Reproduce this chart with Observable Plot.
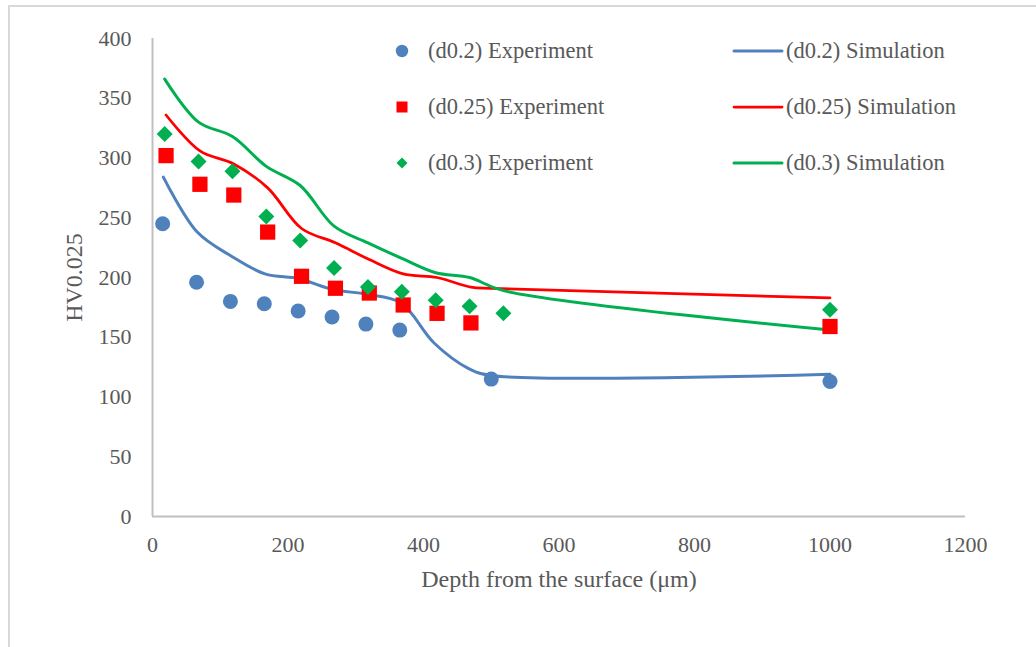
<!DOCTYPE html>
<html>
<head>
<meta charset="utf-8">
<script src="https://cdn.jsdelivr.net/npm/d3@7"></script>
<script src="https://cdn.jsdelivr.net/npm/@observablehq/plot@0.6"></script>
<style>
  html, body { margin: 0; padding: 0; background: #fff; overflow: hidden; }
  #wrap { position: relative; width: 1036px; height: 647px; overflow: hidden; }
  #frame { position: absolute; left: 8px; top: 5px; width: 1100px; height: 700px;
           border-left: 2px solid #d9d9d9; border-top: 2px solid #d9d9d9; box-sizing: border-box; }
  #chart { position: absolute; left: 0; top: 0; }
  #legend { position: absolute; left: 0; top: 0; font-family: "Liberation Serif", "Times New Roman", serif;
            font-size: 22.5px; color: #595959; }
  .item { position: absolute; display: flex; align-items: center; height: 30px; white-space: nowrap; }
  .item svg { display: block; }
  #chart svg g[aria-label="x-axis label"] text, #chart svg g[aria-label="y-axis label"] text { font-size: 24px; }
</style>
</head>
<body>
<div id="wrap">
  <div id="frame"></div>
  <div id="chart"></div>
  <div id="legend"></div>
</div>
<script>
// ---- data ----
const blueExpX  = [15, 65, 115, 165, 215, 265, 315, 365, 500, 1000];
const blueExpY  = [245, 196, 180, 178, 172, 167, 161, 156, 115, 113];
const redExpX   = [20, 70, 120, 170, 220, 270, 320, 370, 420, 470, 1000];
const redExpY   = [302, 278, 269, 238, 201, 191, 187, 177, 170, 162, 159];
const greenExpX = [18, 68, 118, 168, 218, 268, 318, 368, 418, 468, 518, 1000];
const greenExpY = [320, 297, 289, 251, 231, 208, 192, 188, 181, 176, 170, 173];

const blueSimX  = [16, 66, 116, 166, 216, 266, 316, 366, 416, 466, 500, 1000];
const blueSimY  = [284, 238, 218, 203, 199, 190, 186, 179, 145, 124, 118, 119];
const redSimX   = [20, 70, 120, 170, 220, 270, 320, 370, 420, 470, 500, 1000];
const redSimY   = [336, 306, 295, 275, 241, 229, 215, 203, 200, 192, 191, 183];
const greenSimX = [18, 68, 118, 168, 218, 268, 318, 368, 418, 468, 518, 1000];
const greenSimY = [366, 330, 318, 293, 277, 243, 229, 216, 204, 200, 189, 156];

const xTicks = [0, 200, 400, 600, 800, 1000, 1200];
const yTicks = [0, 50, 100, 150, 200, 250, 300, 350, 400];

const seriesNames = ["(d0.2)", "(d0.25)", "(d0.3)"];
const colors = ["#4f81bd", "#ff0000", "#00b050"];

const zip = (xs, ys) => xs.map((x, i) => ({x, y: ys[i]}));
const exp = [zip(blueExpX, blueExpY), zip(redExpX, redExpY), zip(greenExpX, greenExpY)];
const sim = [zip(blueSimX, blueSimY), zip(redSimX, redSimY), zip(greenSimX, greenSimY)];

const axisColor = "#bfbfbf";
const textColor = "#595959";

const chart = Plot.plot({
  width: 1036,
  height: 647,
  marginLeft: 152,
  marginRight: 71,
  marginTop: 38,
  marginBottom: 131,
  style: {fontFamily: "'Liberation Serif', 'Times New Roman', serif", fontSize: "22px", color: textColor, background: "transparent", overflow: "visible"},
  x: {domain: [0, 1200]},
  y: {domain: [0, 400]},
  marks: [
    Plot.ruleX([0], {stroke: axisColor, strokeWidth: 2}),
    Plot.ruleY([0], {stroke: axisColor, strokeWidth: 2}),
    Plot.axisX({ticks: xTicks, tickSize: 0, tickPadding: 20, tickFormat: d => String(d),
      label: "Depth from the surface (μm)", labelAnchor: "center", labelArrow: "none", labelOffset: 70, fill: textColor}),
    Plot.axisY({ticks: yTicks, tickSize: 0, tickPadding: 21, tickFormat: d => String(d),
      label: "HV0.025", labelAnchor: "center", labelArrow: "none", labelOffset: 88, fill: textColor}),
    Plot.line(sim[0], {x: "x", y: "y", stroke: colors[0], strokeWidth: 3, curve: "catmull-rom"}),
    Plot.line(sim[1], {x: "x", y: "y", stroke: colors[1], strokeWidth: 2.75, curve: "catmull-rom"}),
    Plot.line(sim[2], {x: "x", y: "y", stroke: colors[2], strokeWidth: 3, curve: "catmull-rom"}),
    Plot.dot(exp[0], {x: "x", y: "y", fill: colors[0], symbol: "circle", r: 7.5}),
    Plot.dot(exp[1], {x: "x", y: "y", fill: colors[1], symbol: "square", r: 8.6}),
    Plot.dot(exp[2], {x: "x", y: "y", fill: colors[2], symbol: "diamond2", r: 7.2})
  ]
});
document.getElementById("chart").appendChild(chart);

// ---- legend (HTML overlay) ----
const legend = document.getElementById("legend");
const rowTops = [36, 92, 148];
const markerSvgs = [
  `<svg width="16" height="16"><circle cx="8" cy="8" r="6.2" fill="${colors[0]}"/></svg>`,
  `<svg width="16" height="16"><rect x="2.5" y="2.5" width="11" height="11" fill="${colors[1]}"/></svg>`,
  `<svg width="16" height="16"><path d="M8,2.5L13.5,8L8,13.5L2.5,8Z" fill="${colors[2]}"/></svg>`
];
seriesNames.forEach((name, i) => {
  const a = document.createElement("div");
  a.className = "item";
  a.style.left = "394px";
  a.style.top = rowTops[i] + "px";
  a.innerHTML = markerSvgs[i] + `<span style="margin-left:18px">${name} Experiment</span>`;
  legend.appendChild(a);
  const b = document.createElement("div");
  b.className = "item";
  b.style.left = "732px";
  b.style.top = rowTops[i] + "px";
  b.innerHTML = `<svg width="52" height="10"><line x1="2" y1="5" x2="50" y2="5" stroke="${colors[i]}" stroke-width="${i === 1 ? 2.75 : 3}" stroke-linecap="round"/></svg><span style="margin-left:2px">${name} Simulation</span>`;
  legend.appendChild(b);
});
</script>
</body>
</html>
